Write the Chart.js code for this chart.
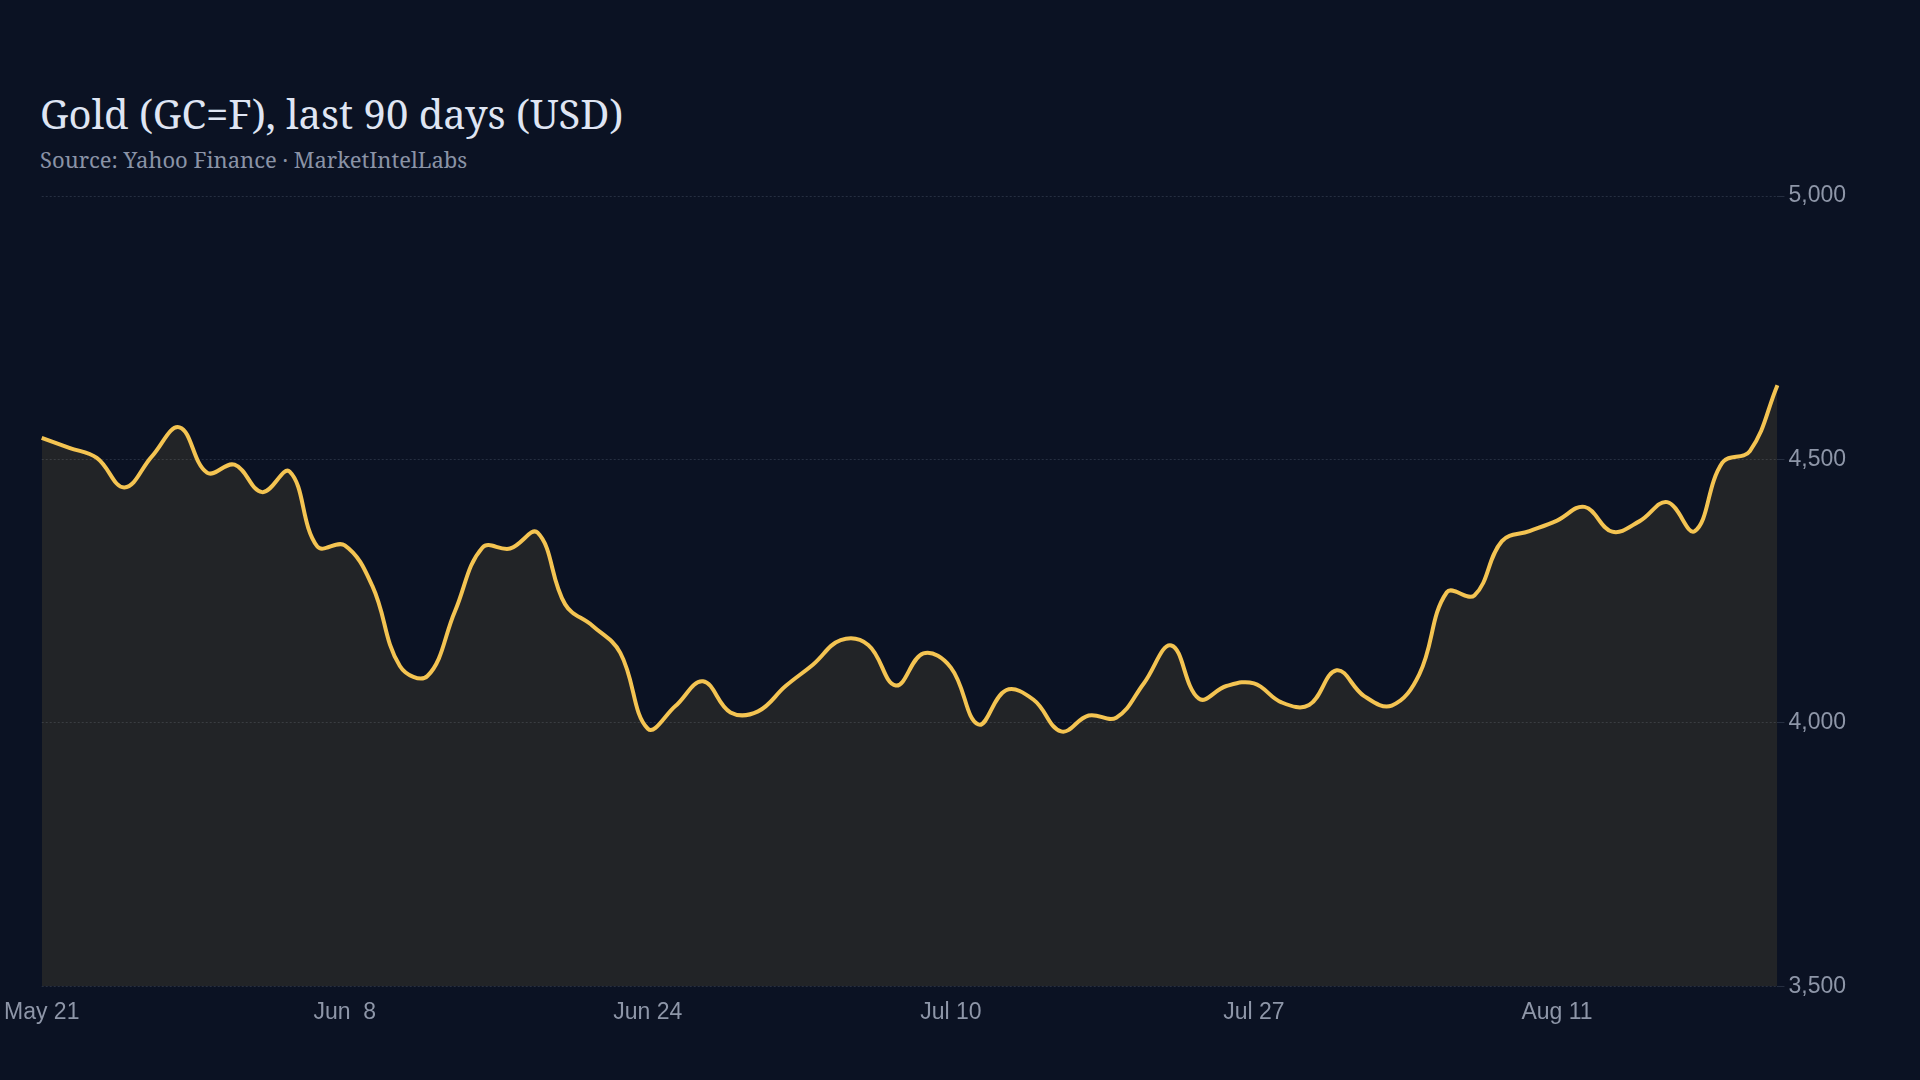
<!DOCTYPE html>
<html>
<head>
<meta charset="utf-8">
<script src="https://cdn.jsdelivr.net/npm/chart.js@4.4.1/dist/chart.umd.min.js"></script>
<style>
  body { margin: 0; background: #0b1223; width: 1920px; height: 1080px; overflow: hidden; position: relative; }
  #title { position: absolute; left: 40px; top: 94px; font: 40px/40px "Noto Serif", "DejaVu Serif", serif; color: #dfe5f3; white-space: nowrap; }
  #subtitle { position: absolute; left: 40px; top: 148px; font: 22px/22px "Noto Serif", "DejaVu Serif", serif; color: #8a93a6; white-space: nowrap; }
  #gold { position: absolute; left: 0; top: 0; }
</style>
</head>
<body>
<div id="title">Gold (GC=F), last 90 days (USD)</div>
<div id="subtitle">Source: Yahoo Finance · MarketIntelLabs</div>
<canvas id="gold" width="1920" height="1080"></canvas>
<script>
// trading days, 2026
const days = [
  "May 21","May 22","May 26","May 27","May 28","May 29",
  "Jun 1","Jun 2","Jun 3","Jun 4","Jun 5","Jun 8","Jun 9","Jun 10","Jun 11","Jun 12",
  "Jun 15","Jun 16","Jun 17","Jun 18","Jun 22","Jun 23","Jun 24","Jun 25","Jun 26",
  "Jun 29","Jun 30","Jul 1","Jul 2","Jul 6","Jul 7","Jul 8","Jul 9","Jul 10",
  "Jul 13","Jul 14","Jul 15","Jul 16","Jul 17","Jul 20","Jul 21","Jul 22","Jul 23","Jul 24",
  "Jul 27","Jul 28","Jul 29","Jul 30","Jul 31","Aug 3","Aug 4","Aug 5","Aug 6","Aug 7",
  "Aug 10","Aug 11","Aug 12","Aug 13","Aug 14","Aug 17","Aug 18","Aug 19","Aug 20","Aug 21"
];
// close, USD
const closes = [
  4541, 4522, 4503, 4447, 4506, 4561, 4475, 4490, 4438, 4477,
  4335, 4337, 4260, 4108, 4089, 4212, 4333, 4331, 4361, 4225,
  4184, 4133, 3989, 4032, 4079, 4020, 4022, 4070, 4111, 4157,
  4148, 4071, 4132, 4105, 3997, 4062, 4044, 3984, 4014, 4010,
  4075, 4147, 4046, 4070, 4075, 4039, 4034, 4100, 4051, 4033,
  4092, 4248, 4242, 4345, 4364, 4384, 4410, 4363, 4383, 4419,
  4364, 4494, 4516, 4641
];
const yTicks = [3500, 4000, 4500, 5000];
const labelEvery = 11;

const tickColor = '#8e96a8';
const gridColor = 'rgba(148,163,184,0.2)';

function tickDate(i) {
  if (i % labelEvery !== 0) return '';
  const parts = days[i].split(' ');
  return parts[0] + ' ' + parts[1].padStart(2, ' ');
}

const ctx = document.getElementById('gold');
new Chart(ctx, {
  type: 'line',
  data: {
    labels: days,
    datasets: [{
      data: closes,
      borderColor: '#f4c452',
      backgroundColor: 'rgba(244,196,82,0.1)',
      borderWidth: 4,
      fill: 'start',
      pointRadius: 0,
      tension: 0.4
    }]
  },
  options: {
    responsive: false,
    animation: false,
    devicePixelRatio: 1,
    layout: { padding: { left: 36, top: 196, right: 70, bottom: 50 } },
    plugins: { legend: { display: false }, tooltip: { enabled: false } },
    scales: {
      x: {
        grid: { display: false },
        border: { display: false },
        ticks: {
          color: tickColor,
          font: { family: 'Liberation Sans', size: 23 },
          autoSkip: false,
          maxRotation: 0,
          padding: 4,
          callback: (v, i) => tickDate(i)
        }
      },
      y: {
        position: 'right',
        min: yTicks[0],
        max: yTicks[yTicks.length - 1],
        afterBuildTicks: axis => { axis.ticks = yTicks.map(v => ({ value: v })); },
        grid: { color: gridColor, tickLength: 7 },
        border: { display: false, dash: [2, 2] },
        ticks: {
          color: tickColor,
          font: { family: 'Liberation Sans', size: 23 },
          padding: 4,
          callback: v => v.toLocaleString('en-US')
        }
      }
    }
  }
});
</script>
</body>
</html>
